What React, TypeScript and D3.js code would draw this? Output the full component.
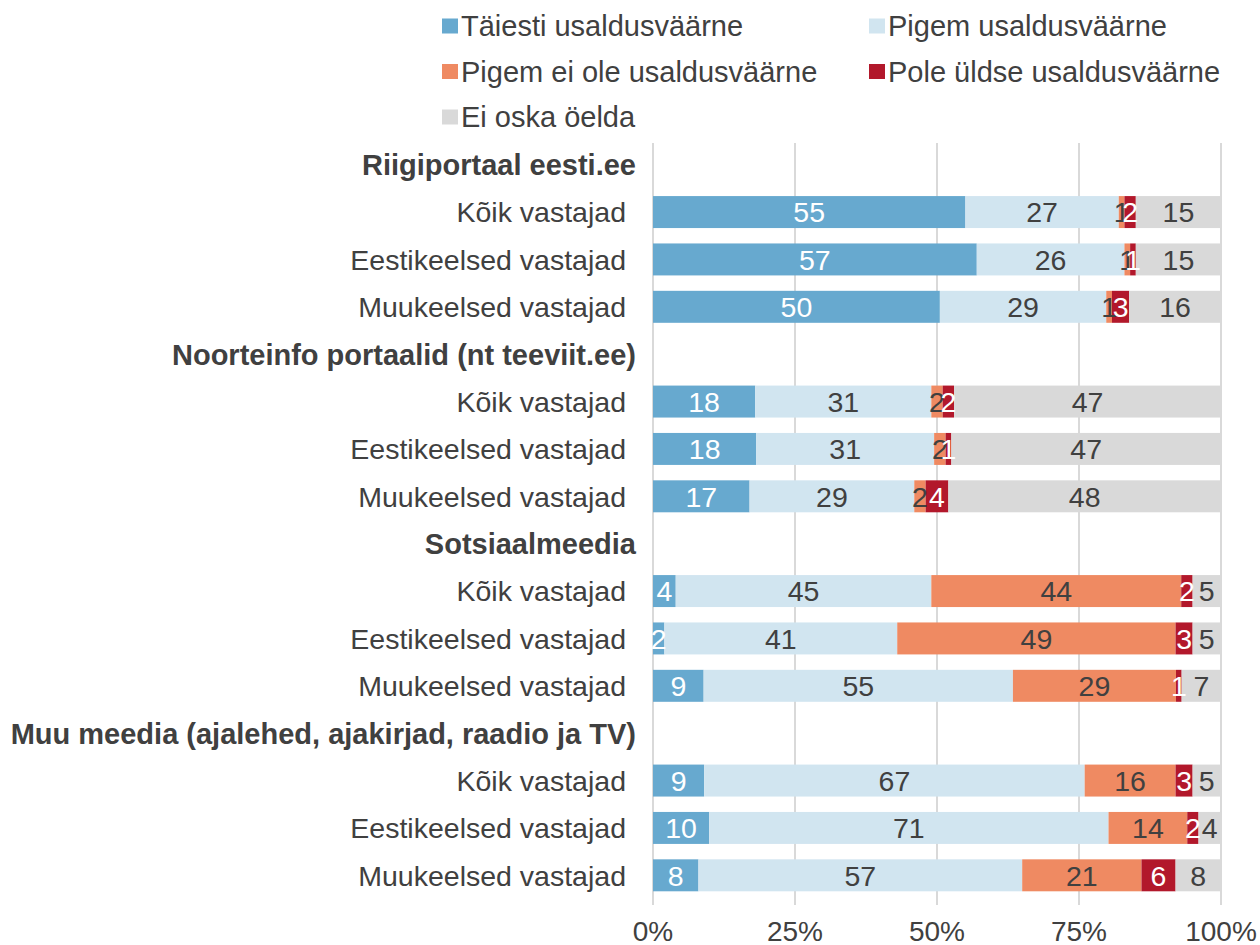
import React from "react";
import * as d3 from "d3";

const seriesNames = [
  "Täiesti usaldusväärne",
  "Pigem usaldusväärne",
  "Pigem ei ole usaldusväärne",
  "Pole üldse usaldusväärne",
  "Ei oska öelda",
];
const seriesColors = ["#67a9cf", "#d1e5f0", "#ef8a62", "#b2182b", "#d9d9d9"];
const labelColors = ["#ffffff", "#404040", "#404040", "#ffffff", "#404040"];

const groups = [
  "Riigiportaal eesti.ee",
  "Noorteinfo portaalid (nt teeviit.ee)",
  "Sotsiaalmeedia",
  "Muu meedia (ajalehed, ajakirjad, raadio ja TV)",
];
const respondents = ["Kõik vastajad", "Eestikeelsed vastajad", "Muukeelsed vastajad"];

const riigiportaal = [
  [55, 27, 1, 2, 15],
  [57, 26, 1, 1, 15],
  [50, 29, 1, 3, 16],
];
const noorteinfo = [
  [18, 31, 2, 2, 47],
  [18, 31, 2, 1, 47],
  [17, 29, 2, 4, 48],
];
const sotsiaalmeedia = [
  [4, 45, 44, 2, 5],
  [2, 41, 49, 3, 5],
  [9, 55, 29, 1, 7],
];
const muuMeedia = [
  [9, 67, 16, 3, 5],
  [10, 71, 14, 2, 4],
  [8, 57, 21, 6, 8],
];
const groupValues = [riigiportaal, noorteinfo, sotsiaalmeedia, muuMeedia];
const ticks = [0, 0.25, 0.5, 0.75, 1];

const W = 1260;
const H = 945;
const FONT = "'Liberation Sans', Arial, sans-serif";
const FS = 28.5;

type Slot = { key: string; header: boolean; label: string; values?: number[] };

export default function App() {
  const slots: Slot[] = [];
  groups.forEach((g, gi) => {
    slots.push({ key: `h${gi}`, header: true, label: g });
    respondents.forEach((r, ri) => {
      slots.push({ key: `r${gi}-${ri}`, header: false, label: r, values: groupValues[gi][ri] });
    });
  });

  const x = d3.scaleLinear().domain([0, 1]).range([653, 1221]);
  const y = d3
    .scaleBand<string>()
    .domain(slots.map((s) => s.key))
    .range([141, 899])
    .paddingInner(0.325)
    .paddingOuter(0.1625);

  const barRows = slots.filter((s) => !s.header);
  const tableRows = barRows.map((s) => {
    const o: any = { key: s.key };
    seriesNames.forEach((n, i) => (o[n] = s.values![i]));
    return o;
  });
  const stack = d3.stack<any>().keys(seriesNames).offset(d3.stackOffsetExpand);
  const stacked = stack(tableRows);

  const legendX = [442, 869];
  const legendY = [26, 71.5, 117];

  return (
    <svg
      width={W}
      height={H}
      style={{ position: "absolute", left: 0, top: 0, background: "#fff" }}
      fontFamily={FONT}
    >
      <rect x={0} y={0} width={W} height={H} fill="#fff" />
      {/* legend */}
      {seriesNames.map((n, i) => {
        const lx = legendX[i % 2];
        const ly = legendY[Math.floor(i / 2)];
        return (
          <g key={n}>
            <rect x={lx} y={ly - 7.5} width={16} height={15} fill={seriesColors[i]} />
            <text x={lx + 19} y={ly} dy="0.36em" fontSize={29} fill="#404040">
              {n}
            </text>
          </g>
        );
      })}
      {/* gridlines */}
      {ticks.map((t) => (
        <line key={t} x1={x(t)} x2={x(t)} y1={143} y2={905} stroke="#d9d9d9" strokeWidth={2} />
      ))}
      {/* tick labels */}
      {ticks.map((t) => (
        <text key={"t" + t} x={x(t)} y={941} textAnchor="middle" fontSize={28} fill="#404040">
          {d3.format(".0%")(t)}
        </text>
      ))}
      {/* category labels */}
      {slots.map((s) => (
        <text
          key={"l" + s.key}
          x={s.header ? 636 : 626}
          y={(y(s.key) as number) + y.bandwidth() / 2}
          dy="0.36em"
          textAnchor="end"
          fontSize={s.header ? 29 : FS}
          fontWeight={s.header ? "bold" : "normal"}
          fill="#404040"
        >
          {s.label}
        </text>
      ))}
      {/* bars */}
      {stacked.map((layer, si) => (
        <g key={layer.key} fill={seriesColors[si]}>
          {layer.map((d, di) => (
            <rect
              key={di}
              x={x(d[0])}
              y={y(barRows[di].key)}
              width={Math.max(0, x(d[1]) - x(d[0]))}
              height={y.bandwidth()}
            />
          ))}
        </g>
      ))}
      {/* value labels */}
      {stacked.map((layer, si) => (
        <g key={"v" + layer.key}>
          {layer.map((d, di) => (
            <text
              key={di}
              x={(x(d[0]) + x(d[1])) / 2}
              y={(y(barRows[di].key) as number) + y.bandwidth() / 2}
              dy="0.36em"
              textAnchor="middle"
              fontSize={FS}
              fill={labelColors[si]}
            >
              {barRows[di].values![si]}
            </text>
          ))}
        </g>
      ))}
    </svg>
  );
}
